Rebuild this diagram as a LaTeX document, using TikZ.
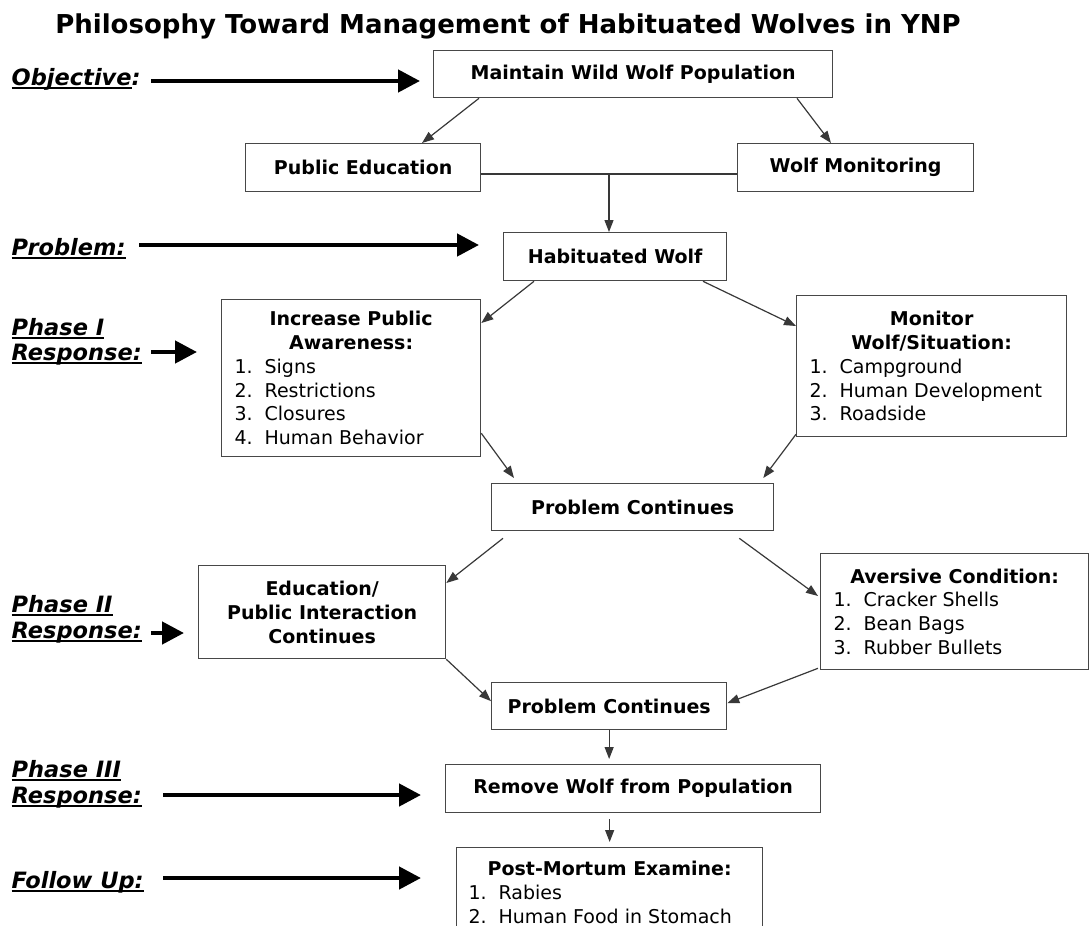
\documentclass[tikz,border=0pt]{standalone}
\usepackage{fontspec}
\setmainfont{DejaVu Sans}
\usetikzlibrary{arrows.meta,calc}
% underline drawn as a rule below the baseline
\newcommand{\myul}[1]{\setbox0\hbox{#1}\rlap{\rule[-3.5pt]{\wd0}{2pt}}\box0}
% width of the current list box and indent of its numbered items
\newlength{\bw}\newlength{\bx}
\newcommand{\hd}[1]{\makebox[\bw]{\bfseries #1}}
\newcommand{\li}[2]{\makebox[\bw][l]{\hspace{\bx}\makebox[30pt][l]{#1}#2}}

\begin{document}
\begin{tikzpicture}[x=1pt,y=-1pt,
  box/.style={draw=black!72, line width=1.3pt, inner sep=0pt, anchor=north west,
    font=\fontsize{19}{23.8}\selectfont\bfseries, align=center},
  listbox/.style 2 args={box, align=left, minimum width=#1,
    execute at begin node={\global\bw=#1\relax\global\bx=#2\relax},
    font=\fontsize{19}{23.8}\selectfont},
  conn/.style={draw=black!78, line width=1.2pt, -{Triangle[length=12pt,width=9pt]}},
  connline/.style={draw=black!78, line width=1.2pt},
  bigarrow/.style={line width=4.5pt, -{Triangle[length=22pt,width=22pt]}},
  side/.style={anchor=base west, inner sep=0pt, font=\fontsize{22.5}{26}\selectfont\bfseries\itshape},
]
\useasboundingbox (0,0) rectangle (1090,926);
\clip (0,0) rectangle (1090,926);

% title
\node[anchor=base, inner sep=0pt, font=\fontsize{26}{30}\selectfont\bfseries] (title) at (508,33)
  {Philosophy Toward Management of Habituated Wolves in YNP};

% flow boxes
\node[box, minimum width=399pt, minimum height=47pt] (maint) at (433,50) {Maintain Wild Wolf Population};
\node[box, minimum width=235pt, minimum height=48pt] (pubed) at (245,143) {Public Education};
\node[box, minimum width=236pt, minimum height=48pt] (wolfmon) at (737,143) {Wolf Monitoring};
\node[box, minimum width=223pt, minimum height=48pt] (habit) at (503,232) {Habituated Wolf};
\node[listbox={259pt}{13pt}, minimum height=157pt] (aware) at (221,299)
  {\hd{Increase Public}\\\hd{Awareness:}\\\li{1.}{Signs}\\\li{2.}{Restrictions}\\\li{3.}{Closures}\\\li{4.}{Human Behavior}};
\node[listbox={270pt}{13pt}, minimum height=141pt] (watch) at (796,295)
  {\hd{Monitor}\\\hd{Wolf/Situation:}\\\li{1.}{Campground}\\\li{2.}{Human Development}\\\li{3.}{Roadside}};
\node[box, minimum width=282pt, minimum height=47pt] (cont1) at (491,483) {Problem Continues};
\node[box, minimum width=247pt, minimum height=93pt] (educ) at (198,565) {Education/\\Public Interaction\\Continues};
\node[listbox={268pt}{13pt}, minimum height=116pt] (avers) at (820,553)
  {\hd{Aversive Condition:}\\\li{1.}{Cracker Shells}\\\li{2.}{Bean Bags}\\\li{3.}{Rubber Bullets}};
\node[box, minimum width=235pt, minimum height=47pt] (cont2) at (491,682) {Problem Continues};
\node[box, minimum width=375pt, minimum height=48pt] (remove) at (445,764) {Remove Wolf from Population};
\node[listbox={306pt}{12pt}, minimum height=89pt] (post) at (456,847)
  {\hd{Post-Mortum Examine:}\\\li{1.}{Rabies}\\\li{2.}{Human Food in Stomach}};

% stage labels
\node[side] (lobj) at (11.5,85) {\myul{Objective}:};
\node[side] (lprob) at (11.5,255) {\myul{Problem:}};
\node[side] (lp1a) at (11.5,335) {\myul{Phase I}};
\node[side] (lp1b) at (11.5,360) {\myul{Response:}};
\node[side] (lp2a) at (11.5,612) {\myul{Phase II}};
\node[side] (lp2b) at (11.5,638) {\myul{Response:}};
\node[side] (lp3a) at (11.5,777) {\myul{Phase III}};
\node[side] (lp3b) at (11.5,803) {\myul{Response:}};
\node[side] (lfol) at (11.5,888) {\myul{Follow Up:}};

% stage pointers
\coordinate (aobj) at (151,81);
\coordinate (aprob) at (139,245);
\coordinate (ap1) at (151,352);
\coordinate (ap2) at (151,633);
\coordinate (ap3) at (163,795);
\coordinate (afol) at (163,878);
\draw[bigarrow, shorten >=13pt] (aobj) -- (aobj -| maint.west);
\draw[bigarrow, shorten >=24pt] (aprob) -- (aprob -| habit.west);
\draw[bigarrow, shorten >=24pt] (ap1) -- (ap1 -| aware.west);
\draw[bigarrow, shorten >=14pt] (ap2) -- (ap2 -| educ.west);
\draw[bigarrow, shorten >=24pt] (ap3) -- (ap3 -| remove.west);
\draw[bigarrow, shorten >=35pt] (afol) -- (afol -| post.west);

% flow connectors
\draw[conn] ([xshift=46pt]maint.south west) -- ([xshift=177pt]pubed.north west);
\draw[conn] ([xshift=364pt]maint.south west) -- ([xshift=94pt]wolfmon.north west);
\coordinate (junc) at (609,174);
\draw[connline] (pubed.east |- junc) -- (wolfmon.west |- junc);
\draw[conn] (junc) -- (junc |- habit.north);
\draw[conn] ([xshift=31pt]habit.south west) -- ([yshift=-24pt]aware.north east);
\draw[conn] ([xshift=200pt]habit.south west) -- ([yshift=-31pt]watch.north west);
\draw[conn] ([yshift=24pt]aware.south east) -- ([xshift=23pt,yshift=5pt]cont1.north west);
\draw[conn] ([yshift=3pt]watch.south west) -- ([xshift=-11pt,yshift=5pt]cont1.north east);
\draw[conn] ([xshift=12pt,yshift=-7pt]cont1.south west) -- ([yshift=-18pt]educ.north east);
\draw[conn] ([xshift=-35pt,yshift=-7pt]cont1.south east) -- ([xshift=-2pt,yshift=-43pt]avers.north west);
\draw[conn] (educ.south east) -- ([yshift=5pt]cont2.west);
\draw[conn] ([xshift=-2pt,yshift=2pt]avers.south west) -- ([yshift=3pt]cont2.east);
\draw[conn] (cont2.south) -- ($(cont2.south |- remove.north)+(0,-5)$);
\draw[conn] ($(post.north |- remove.south)+(0,6)$) -- ($(post.north)+(0,-5)$);
\end{tikzpicture}
\end{document}
